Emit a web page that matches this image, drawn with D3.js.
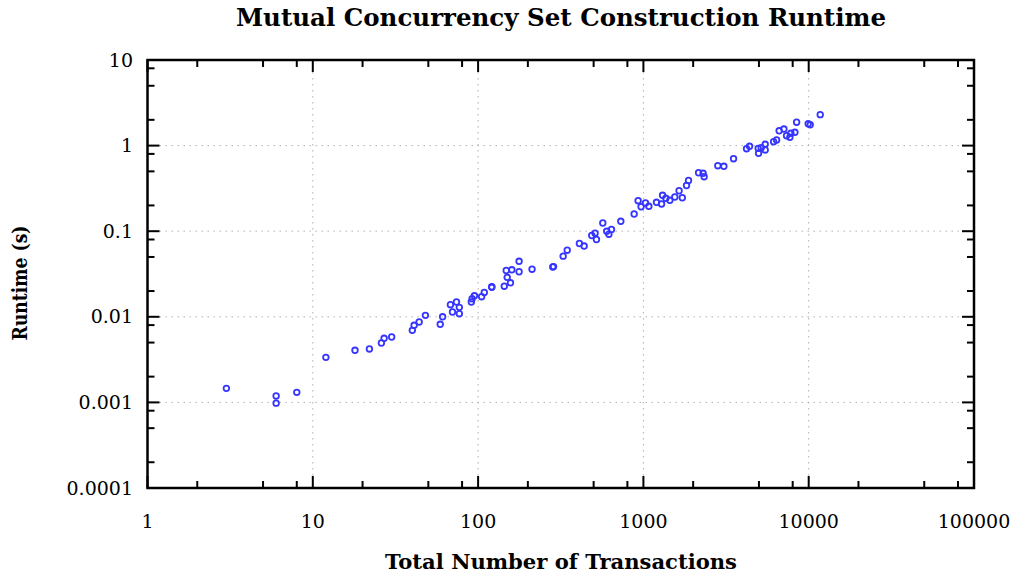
<!DOCTYPE html>
<html><head><meta charset="utf-8">
<script src="https://cdn.jsdelivr.net/npm/d3@7"></script>
<style>
body{margin:0;background:#fff;}
svg{display:block;}
text{font-family:"DejaVu Serif","Liberation Serif",serif;fill:#000;}
</style></head>
<body><svg id="c" width="1021" height="577"></svg>
<script>
const titleText = "Mutual Concurrency Set Construction Runtime";
const xLabel = "Total Number of Transactions";
const yLabel = "Runtime (s)";
const xTicks = [1, 10, 100, 1000, 10000, 100000];
const xTickLabels = ["1", "10", "100", "1000", "10000", "100000"];
const yTicks = [0.0001, 0.001, 0.01, 0.1, 1, 10];
const yTickLabels = ["0.0001", "0.001", "0.01", "0.1", "1", "10"];
const minorMultipliers = [2, 5, 8];

const transactions = [3, 6, 6, 8, 12, 18, 22, 26, 27, 30, 40, 41, 44, 48, 59, 61, 68, 70, 74, 77, 77, 91, 92, 95, 105, 109, 121, 121, 144, 157, 150, 148, 160, 177, 177, 212, 283, 286, 327, 346, 410, 438, 487, 510, 520, 568, 600, 618, 641, 730, 879, 929, 968, 1030, 1079, 1200, 1288, 1306, 1367, 1445, 1549, 1644, 1719, 1823, 1875, 2157, 2297, 2330, 2820, 3068, 3510, 4208, 4387, 4975, 4950, 5160, 5455, 5455, 6135, 6394, 6625, 7080, 7345, 7693, 7805, 8250, 8450, 9930, 10210, 11740];
const runtimes = [0.00146, 0.00119, 0.00098, 0.00131, 0.00336, 0.00406, 0.00421, 0.00494, 0.00561, 0.00581, 0.00695, 0.00796, 0.00869, 0.0104, 0.00817, 0.0100, 0.01384, 0.01138, 0.0149, 0.0129, 0.01087, 0.0149, 0.01627, 0.0176, 0.01718, 0.01923, 0.0224, 0.0221, 0.02277, 0.02495, 0.0289, 0.03475, 0.0354, 0.0336, 0.0445, 0.0360, 0.0382, 0.0386, 0.0511, 0.0600, 0.0718, 0.0671, 0.0891, 0.0948, 0.080, 0.1247, 0.0997, 0.0923, 0.1047, 0.1305, 0.1588, 0.227, 0.193, 0.2134, 0.1954, 0.2176, 0.208, 0.2626, 0.2422, 0.2296, 0.251, 0.297, 0.246, 0.342, 0.391, 0.482, 0.475, 0.433, 0.582, 0.573, 0.703, 0.920, 0.981, 0.813, 0.929, 0.945, 1.036, 0.889, 1.111, 1.162, 1.49, 1.56, 1.306, 1.25, 1.393, 1.43, 1.876, 1.80, 1.75, 2.30];

const svg = d3.select("#c");
const L = 147.5, R = 974, T = 60, B = 488;
const x = d3.scaleLog().domain([1, 100000]).range([L, R]);
const y = d3.scaleLog().domain([0.0001, 10]).range([B, T]);

// grid
const g = svg.append("g");
g.selectAll("line.vg").data(xTicks.slice(1, -1)).join("line")
  .attr("x1", d => x(d)).attr("x2", d => x(d)).attr("y1", T).attr("y2", B)
  .attr("stroke", "#b0b0b0").attr("stroke-width", 1).attr("stroke-dasharray", "1.5,4.5");
g.selectAll("line.hg").data(yTicks.slice(1, -1)).join("line")
  .attr("y1", d => y(d)).attr("y2", d => y(d)).attr("x1", L).attr("x2", R)
  .attr("stroke", "#b0b0b0").attr("stroke-width", 1).attr("stroke-dasharray", "1.5,4.5");

// ticks (inward, mirrored)
const minorX = [];
xTicks.slice(0, -1).forEach(t => minorMultipliers.forEach(m => minorX.push(t * m)));
const minorY = [];
yTicks.slice(0, -1).forEach(t => minorMultipliers.forEach(m => minorY.push(t * m)));
const tk = svg.append("g").attr("stroke", "#000").attr("stroke-width", 2);
const MAJ = 12, MIN = 7;
[[xTicks, MAJ], [minorX, MIN]].forEach(([arr, len]) => {
  tk.selectAll(null).data(arr).join("line")
    .attr("x1", d => x(d)).attr("x2", d => x(d)).attr("y1", B).attr("y2", B - len);
  tk.selectAll(null).data(arr).join("line")
    .attr("x1", d => x(d)).attr("x2", d => x(d)).attr("y1", T).attr("y2", T + len);
});
[[yTicks, MAJ], [minorY, MIN]].forEach(([arr, len]) => {
  tk.selectAll(null).data(arr).join("line")
    .attr("y1", d => y(d)).attr("y2", d => y(d)).attr("x1", L).attr("x2", L + len);
  tk.selectAll(null).data(arr).join("line")
    .attr("y1", d => y(d)).attr("y2", d => y(d)).attr("x1", R).attr("x2", R - len);
});

// frame
svg.append("rect").attr("x", L).attr("y", T).attr("width", R - L).attr("height", B - T)
  .attr("fill", "none").attr("stroke", "#000").attr("stroke-width", 2.5);

// tick labels
svg.append("g").selectAll("text").data(xTicks).join("text")
  .attr("x", d => x(d)).attr("y", 528).attr("text-anchor", "middle")
  .attr("font-size", 19).text((d, i) => xTickLabels[i]);
svg.append("g").selectAll("text").data(yTicks).join("text")
  .attr("x", 133).attr("y", d => y(d) + 6.5).attr("text-anchor", "end")
  .attr("font-size", 19).text((d, i) => yTickLabels[i]);

// points
svg.append("g").selectAll("circle").data(transactions.map((t, i) => [t, runtimes[i]])).join("circle")
  .attr("cx", d => x(d[0])).attr("cy", d => y(d[1])).attr("r", 2.8)
  .attr("fill", "none").attr("stroke", "#3535ff").attr("stroke-width", 1.8);

// titles
svg.append("text").attr("x", 561).attr("y", 26).attr("text-anchor", "middle")
  .attr("font-size", 25).attr("font-weight", "bold")
  .attr("textLength", 650).attr("lengthAdjust", "spacingAndGlyphs").text(titleText);
svg.append("text").attr("x", 561).attr("y", 569).attr("text-anchor", "middle")
  .attr("font-size", 21).attr("font-weight", "bold")
  .attr("textLength", 352).attr("lengthAdjust", "spacingAndGlyphs").text(xLabel);
svg.append("text").attr("transform", "translate(27,283) rotate(-90)").attr("text-anchor", "middle")
  .attr("font-size", 21).attr("font-weight", "bold")
  .attr("textLength", 115).attr("lengthAdjust", "spacingAndGlyphs").text(yLabel);
</script></body></html>
